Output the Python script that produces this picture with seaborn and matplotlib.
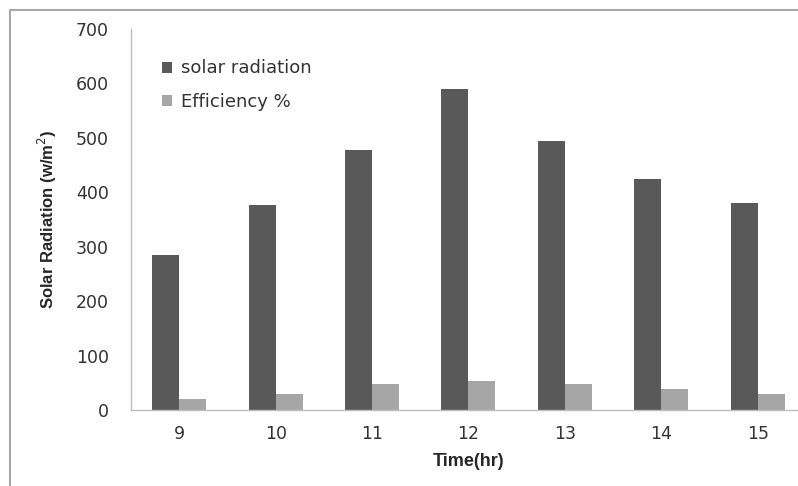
import matplotlib
matplotlib.use("Agg")
import matplotlib.pyplot as plt
import seaborn as sns
import pandas as pd
from matplotlib.patches import Rectangle

hours = ["9", "10", "11", "12", "13", "14", "15"]
solar_radiation = [285, 376, 478, 590, 495, 425, 380]
efficiency = [21, 30, 48, 54, 48, 39, 30]
series_names = ["solar radiation", "Efficiency %"]
colors = ["#595959", "#a6a6a6"]

df = pd.DataFrame({
    "hour": hours * 2,
    "series": [series_names[0]] * len(hours) + [series_names[1]] * len(hours),
    "value": solar_radiation + efficiency,
})

sns.set_theme(style="white")
plt.rcParams["font.family"] = ["DejaVu Sans"]

W, H = 798, 486
fig = plt.figure(figsize=(W / 100, H / 100), dpi=100)
fig.patch.set_facecolor("white")

# outer frame (partial, cropped)
fig.patches.append(Rectangle((10 / W, -0.1), 1.2, (486 - 10) / H + 0.1,
                             transform=fig.transFigure, fill=False,
                             edgecolor="#a8a8a8", linewidth=1.5))

left, right = 131, 806
bottom, top = 410, 29
ax = fig.add_axes([left / W, (H - bottom) / H, (right - left) / W, (bottom - top) / H])

sns.barplot(data=df, x="hour", y="value", hue="series", order=hours,
            hue_order=series_names, palette=colors, saturation=1,
            width=0.56, ax=ax, linewidth=0)

ax.set_ylim(0, 700)
ax.set_yticks(range(0, 701, 100))
ax.set_xlim(-0.5, len(hours) - 0.5)

for s in ["top", "right"]:
    ax.spines[s].set_visible(False)
for s in ["left", "bottom"]:
    ax.spines[s].set_color("#bdbdbd")
    ax.spines[s].set_linewidth(1.0)

ax.tick_params(axis="y", length=0, pad=16, labelsize=12.5, labelcolor="#333333")
ax.tick_params(axis="x", length=0, pad=11, labelsize=12.5, labelcolor="#333333")

ax.set_xlabel("Time(hr)", fontsize=13, fontweight="bold",
              family=["Liberation Sans", "DejaVu Sans"], labelpad=7)
ax.set_ylabel("Solar Radiation (w/m$^2$)", fontsize=12, fontweight="bold",
              family=["Liberation Sans Narrow", "Liberation Sans", "DejaVu Sans"], labelpad=12)

handles, labels = ax.get_legend_handles_labels()
ax.legend(handles, labels, loc="upper left", bbox_to_anchor=(0.046, 0.92),
          frameon=False, fontsize=13, handlelength=0.55, handleheight=0.55,
          handletextpad=0.5, labelspacing=0.85, borderpad=0, borderaxespad=0,
          labelcolor="#333333")

fig.savefig("out.png", dpi=100, facecolor="white")
